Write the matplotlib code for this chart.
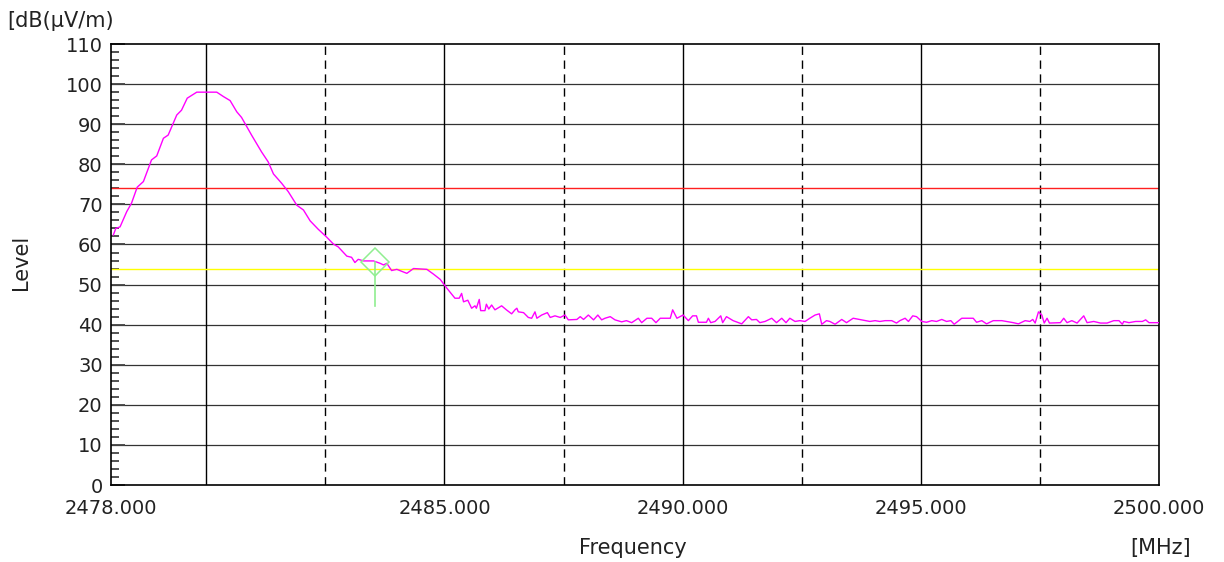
import numpy as np
import matplotlib
matplotlib.use("Agg")
import matplotlib.pyplot as plt

plt.rcParams['font.family'] = ['DejaVu Sans']

# measured trace (MHz, dBuV/m)
freq = [2478.05, 2478.10, 2478.19, 2478.33, 2478.43, 2478.55, 2478.68, 2478.85, 2478.96,
        2479.10, 2479.20, 2479.38, 2479.48, 2479.60, 2479.80, 2480.22, 2480.36, 2480.50,
        2480.64, 2480.74, 2480.95, 2481.16, 2481.30, 2481.41, 2481.58, 2481.72, 2481.90,
        2482.04, 2482.18, 2482.35, 2482.53, 2482.67, 2482.77, 2482.95, 2483.05, 2483.12,
        2483.19, 2483.30, 2483.51, 2483.65, 2483.72, 2483.79, 2483.89, 2484.00, 2484.21,
        2484.35, 2484.63, 2484.77, 2484.91, 2485.05, 2485.22, 2485.31, 2485.36, 2485.40,
        2485.49, 2485.57, 2485.64, 2485.67, 2485.73, 2485.76, 2485.85, 2485.88, 2485.93,
        2485.99, 2486.06, 2486.20, 2486.30, 2486.41, 2486.48, 2486.52, 2486.55, 2486.66,
        2486.76, 2486.83, 2486.90, 2486.94, 2487.04, 2487.16, 2487.22, 2487.32, 2487.43,
        2487.53, 2487.60, 2487.78, 2487.85, 2487.92, 2488.02, 2488.13, 2488.22, 2488.30,
        2488.37, 2488.48, 2488.58, 2488.72, 2488.82, 2488.93, 2489.07, 2489.14, 2489.25,
        2489.35, 2489.44, 2489.53, 2489.74, 2489.79, 2489.88, 2490.01, 2490.12, 2490.21,
        2490.29, 2490.33, 2490.50, 2490.54, 2490.59, 2490.68, 2490.80, 2490.84, 2490.92,
        2491.06, 2491.24, 2491.38, 2491.45, 2491.55, 2491.62, 2491.73, 2491.87, 2491.97,
        2492.08, 2492.17, 2492.25, 2492.36, 2492.46, 2492.57, 2492.67, 2492.78, 2492.87,
        2492.92, 2493.02, 2493.09, 2493.20, 2493.34, 2493.44, 2493.58, 2493.76, 2493.93,
        2494.04, 2494.14, 2494.25, 2494.39, 2494.49, 2494.56, 2494.67, 2494.74, 2494.83,
        2494.91, 2495.02, 2495.12, 2495.23, 2495.33, 2495.44, 2495.54, 2495.63, 2495.70,
        2495.86, 2496.10, 2496.17, 2496.28, 2496.38, 2496.52, 2496.70, 2496.94, 2497.05,
        2497.19, 2497.29, 2497.35, 2497.40, 2497.47, 2497.54, 2497.59, 2497.65, 2497.70,
        2497.93, 2498.00, 2498.07, 2498.17, 2498.28, 2498.42, 2498.49, 2498.63, 2498.77,
        2498.91, 2499.05, 2499.16, 2499.23, 2499.26, 2499.37, 2499.51, 2499.65, 2499.72,
        2499.79, 2500.00]
level = [62.4, 64.0, 64.4, 68.2, 70.3, 74.3, 75.7, 81.1, 82.1,
         86.5, 87.3, 92.3, 93.5, 96.5, 98.0, 98.0, 96.9, 95.9,
         93.1, 91.7, 87.3, 83.1, 80.6, 77.6, 75.3, 73.2, 69.8,
         68.6, 65.9, 63.8, 61.8, 60.1, 59.4, 57.1, 56.8, 55.5,
         56.3, 55.9, 55.9, 55.3, 54.9, 55.3, 53.5, 53.8, 52.8,
         54.0, 53.8, 52.6, 51.3, 49.1, 46.6, 46.6, 47.8, 45.7,
         46.1, 44.1, 44.7, 44.1, 46.3, 43.5, 43.5, 45.1, 43.9,
         44.9, 43.7, 44.7, 43.7, 42.7, 43.7, 44.1, 43.2, 43.0,
         41.8, 41.6, 43.2, 41.6, 42.4, 43.0, 41.8, 42.2, 41.8,
         42.4, 41.2, 41.3, 42.0, 41.3, 42.4, 41.2, 42.4, 41.2,
         41.6, 42.0, 41.2, 40.7, 41.0, 40.5, 41.6, 40.5, 41.6,
         41.6, 40.5, 41.6, 41.6, 43.7, 41.6, 42.4, 41.0, 42.2,
         42.2, 40.6, 40.6, 41.6, 40.5, 40.8, 42.2, 40.5, 42.0,
         41.0, 40.2, 42.0, 41.2, 41.3, 40.5, 40.8, 41.6, 40.5,
         41.6, 40.5, 41.6, 40.8, 41.0, 40.8, 41.6, 42.4, 42.7,
         40.1, 41.0, 40.8, 40.1, 41.3, 40.5, 41.6, 41.2, 40.8,
         41.0, 40.8, 41.0, 41.0, 40.4, 41.0, 41.6, 40.8, 42.2,
         42.0, 40.8, 40.6, 41.0, 40.8, 41.3, 40.8, 41.0, 40.1,
         41.6, 41.6, 40.6, 41.0, 40.2, 41.0, 41.0, 40.5, 40.2,
         41.0, 40.8, 41.3, 40.4, 43.2, 42.4, 40.4, 41.6, 40.4,
         40.5, 41.6, 40.5, 41.0, 40.4, 42.2, 40.5, 40.8, 40.4,
         40.4, 41.0, 41.0, 40.1, 40.8, 40.5, 40.8, 40.8, 41.2,
         40.5, 40.5]

limit_red = 74.0
limit_yellow = 54.0
marker_freq = 2483.54
marker_level = 55.7
marker_low = 44.7

xticks = [2478, 2485, 2490, 2495, 2500]
xtick_labels = ['2478.000', '2485.000', '2490.000', '2495.000', '2500.000']
solid_vlines = [2480, 2485, 2490, 2495]
dashed_vlines = [2482.5, 2487.5, 2492.5, 2497.5]

fig = plt.figure(figsize=(12.24, 5.62), dpi=100)
ax = fig.add_axes([0.0907, 0.137, 0.8562, 0.7846])

ax.set_xlim(2478, 2500)
ax.set_ylim(0, 110)

for y in range(10, 110, 10):
    ax.axhline(y, color='#333333', lw=0.9, zorder=1)
for x in solid_vlines:
    ax.axvline(x, color='black', lw=1.0, zorder=1)
for x in dashed_vlines:
    ax.axvline(x, color='black', lw=1.0, dashes=(6, 4), zorder=1)

ax.axhline(limit_red, color='#ff2020', lw=1.0, zorder=2)
ax.axhline(limit_yellow, color='#ffff00', lw=1.0, zorder=2)

ax.plot(freq, level, color='#ff00ff', lw=1.0, zorder=3)

# marker
ax.plot([marker_freq, marker_freq], [marker_level, marker_low], color='#90ee90', lw=1.2, zorder=4)
ax.plot([marker_freq], [marker_level], marker='D', ms=14, mfc='none', mec='#90ee90', mew=1.1, zorder=4)

ax.set_xticks(xticks)
ax.set_xticklabels(xtick_labels)
ax.set_yticks(range(0, 111, 10))
ax.set_yticks(range(0, 111, 2), minor=True)
ax.tick_params(axis='x', length=0, pad=10, labelsize=14, colors='#222222')
ax.tick_params(axis='y', which='major', direction='in', length=10, width=1.3,
               color='#444444', labelsize=14, pad=6, labelcolor='#222222')
ax.tick_params(axis='y', which='minor', direction='in', length=6, width=1.3, color='#444444')

for s in ax.spines.values():
    s.set_color('black')
    s.set_linewidth(1.2)

fig.text(0.017, 0.534, 'Level', rotation=90, fontsize=15, color='#222222', ha='center', va='center')
fig.text(0.517, 0.025, 'Frequency', fontsize=15, color='#222222', ha='center', va='center')
fig.text(0.948, 0.025, '[MHz]', fontsize=15, color='#222222', ha='center', va='center')
fig.text(0.006, 0.963, '[dB(µV/m)', fontsize=15, color='#222222', ha='left', va='center')

fig.savefig('out.png', dpi=100)
